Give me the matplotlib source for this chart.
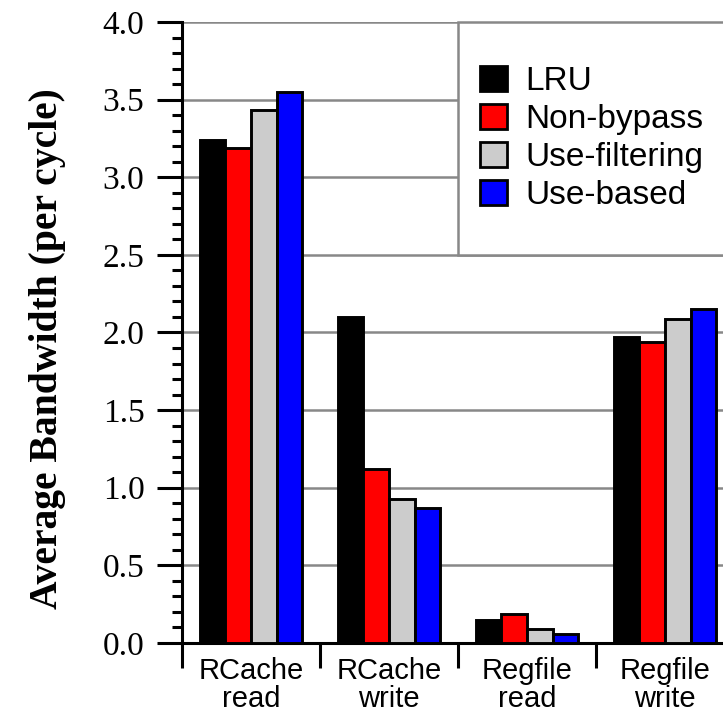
import matplotlib
matplotlib.use("Agg")
import matplotlib.pyplot as plt
from matplotlib.patches import Rectangle, Patch
from matplotlib.ticker import MultipleLocator, FixedLocator, NullFormatter
import numpy as np

categories = ["RCache\nread", "RCache\nwrite", "Regfile\nread", "Regfile\nwrite"]
series_names = ["LRU", "Non-bypass", "Use-filtering", "Use-based"]
lru = [3.24, 2.10, 0.15, 1.97]
non_bypass = [3.19, 1.12, 0.19, 1.94]
use_filtering = [3.43, 0.93, 0.09, 2.09]
use_based = [3.55, 0.87, 0.06, 2.15]
y_ticks = [0.0, 0.5, 1.0, 1.5, 2.0, 2.5, 3.0, 3.5, 4.0]
colors = ["#000000", "#ff0000", "#cccccc", "#0000ff"]

W, H, DPI = 723, 712, 100
fig = plt.figure(figsize=(W / DPI, H / DPI), dpi=DPI)
ax_left, ax_right, ax_top, ax_bottom = 182, 734, 22, 643
ax = fig.add_axes([ax_left / W, 1 - ax_bottom / H, (ax_right - ax_left) / W, (ax_bottom - ax_top) / H])

centers = np.arange(len(categories)) + 0.5
bw = 0.185
all_series = [lru, non_bypass, use_filtering, use_based]
for i, (vals, c, name) in enumerate(zip(all_series, colors, series_names)):
    ax.bar(centers + (i - 1.5) * bw, vals, width=bw, color=c, edgecolor="black",
           linewidth=2.1, zorder=3, label=name)

ax.set_xlim(0, 4)
ax.set_ylim(0, 4.0)

# y ticks and grid
ax.yaxis.set_major_locator(FixedLocator(y_ticks))
ax.yaxis.set_minor_locator(MultipleLocator(0.1))
ax.set_yticklabels([f"{v:.1f}" for v in y_ticks],
                   fontfamily="Liberation Serif", fontsize=24)
ax.grid(axis="y", which="major", color="#888888", linewidth=1.8, zorder=1)
ax.set_axisbelow(True)
ax.tick_params(axis="y", which="major", length=18, width=2.2, pad=9, direction="out")
ax.tick_params(axis="y", which="minor", length=7.5, width=2.2, direction="out")

# x ticks: marks at boundaries, labels at centres
ax.xaxis.set_major_locator(FixedLocator([0, 1, 2, 3, 4]))
ax.xaxis.set_major_formatter(NullFormatter())
ax.xaxis.set_minor_locator(FixedLocator(centers))
ax.set_xticklabels(categories, minor=True, fontfamily="Liberation Sans", fontsize=21,
                   linespacing=1.0)
ax.tick_params(axis="x", which="major", length=18, width=2.2, direction="out")
ax.tick_params(axis="x", which="minor", length=0, pad=10)

for s in ["top", "right"]:
    ax.spines[s].set_visible(False)
for s in ["left", "bottom"]:
    ax.spines[s].set_linewidth(2.2)

# legend box
box = Rectangle((2.0, 2.5), 2.1, 1.5, facecolor="white", edgecolor="#888888",
                linewidth=1.8, zorder=2, clip_on=False)
ax.add_patch(box)

handles = [Patch(facecolor=c, edgecolor="black", linewidth=2.0) for c in colors]
leg = ax.legend(handles, series_names, loc="center left",
                bbox_to_anchor=(480 / W, 1 - 138.5 / H), bbox_transform=fig.transFigure,
                frameon=False, borderpad=0, borderaxespad=0,
                handlelength=0.8, handleheight=0.8, handletextpad=0.55,
                labelspacing=0.2, prop={"family": "Liberation Sans", "size": 24})
leg.set_zorder(5)

fig.text(48 / W, 1 - 349 / H, "Average Bandwidth (per cycle)", rotation=90,
         ha="center", va="center", fontfamily="Liberation Serif", fontweight="bold",
         fontsize=28.5)

fig.savefig("out.png", dpi=DPI)
